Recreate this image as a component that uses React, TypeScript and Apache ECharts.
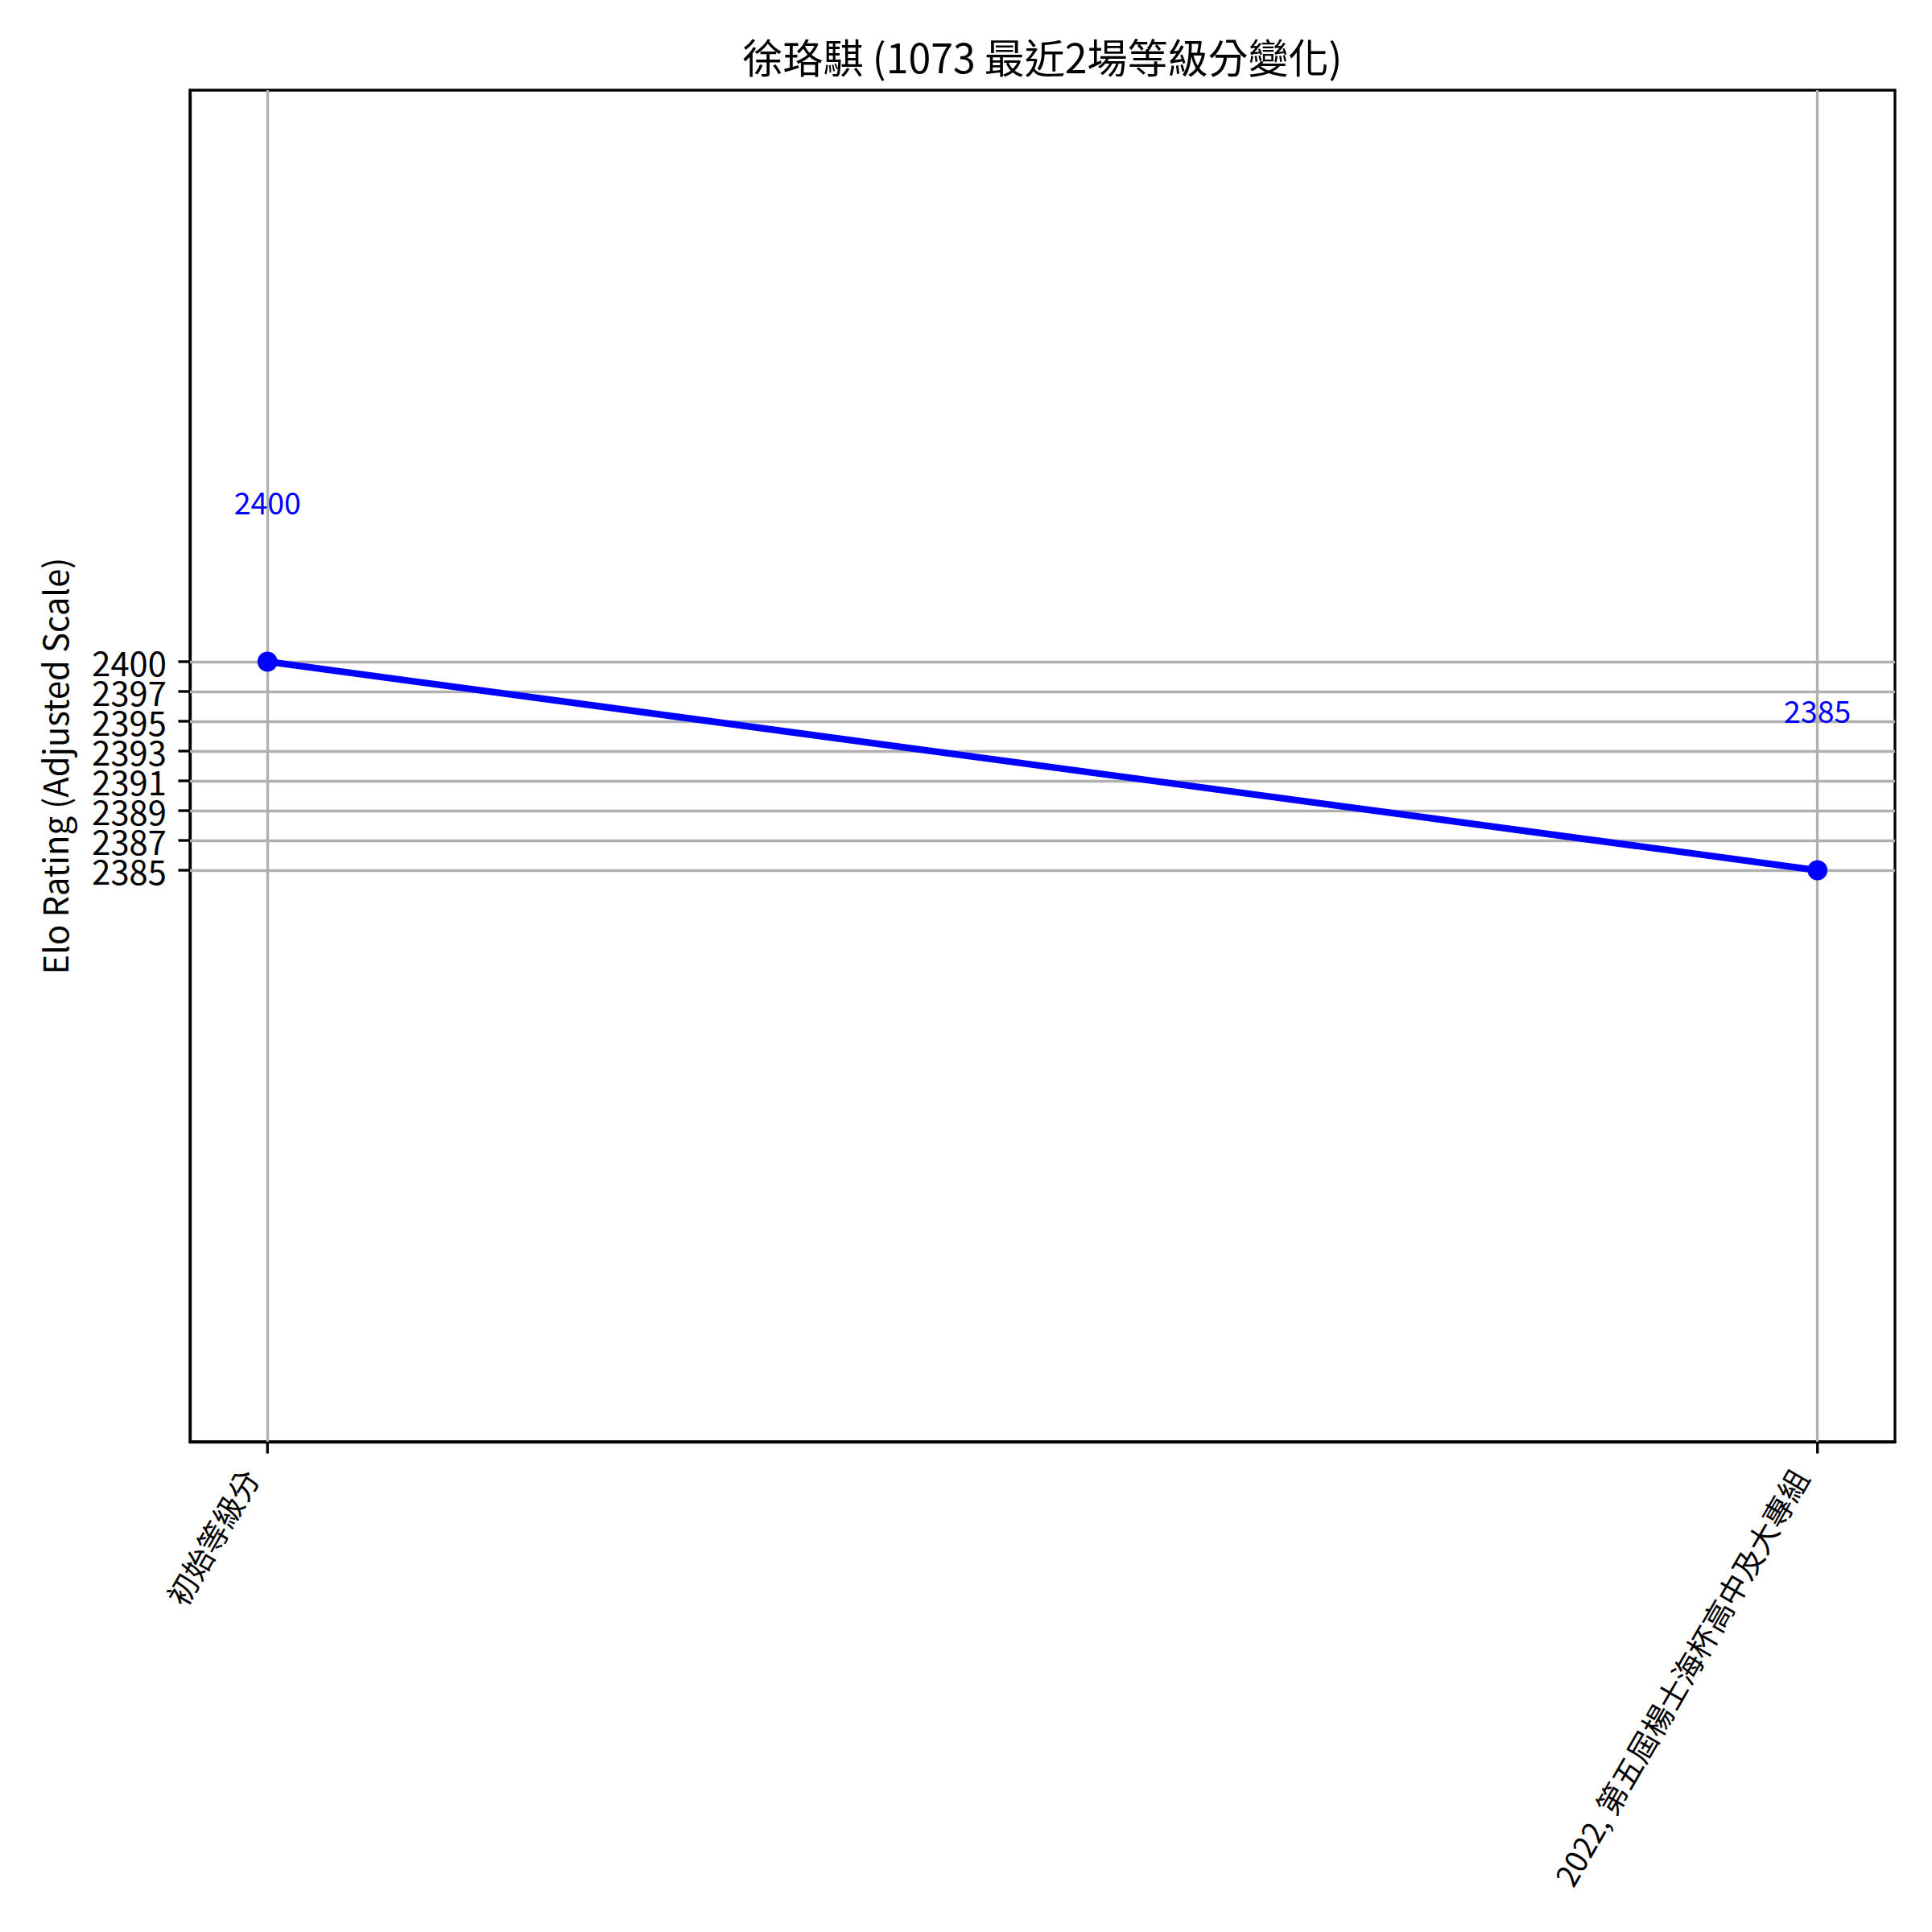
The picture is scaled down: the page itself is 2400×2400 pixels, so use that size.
import React, { useEffect, useRef } from "react";
import * as echarts from "echarts";

const categories = ["初始等級分", "2022, 第五屆楊士海杯高中及大專組"];
const ratings = [2400, 2385];
const yTickValues = [2385, 2387.142857, 2389.285714, 2391.428571, 2393.571429, 2395.714286, 2397.857143, 2400];
const yTickLabels = ["2385", "2387", "2389", "2391", "2393", "2395", "2397", "2400"];
const titleText = "徐珞騏 (1073 最近2場等級分變化)";
const yAxisName = "Elo Rating (Adjusted Scale)";

const X_MIN = -0.05;
const X_MAX = 1.05;
const Y_MIN = 2343.9;
const Y_MAX = 2441.1;

const FONT = "'Noto Sans CJK TC', 'Noto Sans CJK SC', 'Noto Sans', sans-serif";

export default function App() {
  const ref = useRef<HTMLDivElement>(null);
  useEffect(() => {
    if (!ref.current) return;
    const chart = echarts.init(ref.current, null, { renderer: "svg" });
    const xIdx = categories.map((_, i) => i);
    const gridColor = "#b0b0b0";
    const TICK = 14.6;
    const PAD = 14.6;
    const option: any = {
      animation: false,
      backgroundColor: "#ffffff",
      textStyle: { fontFamily: FONT },
      graphic: [
        {
          type: "text",
          x: 1295,
          y: 69,
          style: {
            text: titleText,
            textAlign: "center",
            textVerticalAlign: "middle",
            fontSize: 50,
            fontFamily: FONT,
            fill: "#000",
          },
        },
      ],
      grid: {
        left: 236,
        top: 112,
        width: 2118,
        height: 1679,
        show: true,
        borderColor: "#000",
        borderWidth: 3.3,
        backgroundColor: "transparent",
        containLabel: false,
      },
      xAxis: {
        type: "value",
        min: X_MIN,
        max: X_MAX,
        splitLine: { show: false },
        axisLine: { show: true, onZero: false, lineStyle: { color: "#000", width: 3.3 } },
        axisTick: { show: false },
        axisLabel: {
          show: true,
          customValues: xIdx,
          showMinLabel: true,
          showMaxLabel: true,
          hideOverlap: false,
          rotate: 60,
          fontSize: 37.5,
          fontFamily: FONT,
          color: "#000",
          margin: 36,
          verticalAlign: "bottom",
          padding: [0, 12, 0, 0],
          formatter: (v: number) => categories[Math.round(v)] ?? "",
        },
      },
      yAxis: {
        type: "value",
        min: Y_MIN,
        max: Y_MAX,
        name: yAxisName,
        nameLocation: "middle",
        nameGap: 148,
        nameTextStyle: { fontSize: 41.7, fontFamily: FONT, color: "#000" },
        splitLine: { show: false },
        axisLine: { show: true, onZero: false, lineStyle: { color: "#000", width: 3.3 } },
        axisTick: { show: false },
        axisLabel: { show: false },
      },
      series: [
        {
          type: "line",
          z: 1,
          data: [],
          silent: true,
          markLine: {
            silent: true,
            symbol: ["none", "none"],
            label: { show: false },
            lineStyle: { color: gridColor, width: 3.3, type: "solid" },
            emphasis: { disabled: true },
            data: [
              ...yTickValues.map((v) => ({ yAxis: v })),
              ...xIdx.map((v) => ({ xAxis: v })),
            ],
          },
        },
        {
          type: "custom",
          z: 6,
          silent: true,
          clip: false,
          data: yTickValues.map((v) => [X_MIN, v]),
          renderItem: (params: any, api: any) => {
            const p = api.coord([api.value(0), api.value(1)]);
            return {
              type: "group",
              children: [
                {
                  type: "line",
                  shape: { x1: p[0] - TICK, y1: p[1], x2: p[0], y2: p[1] },
                  style: { stroke: "#000", lineWidth: 3.3 },
                },
                {
                  type: "text",
                  x: p[0] - TICK - PAD,
                  y: p[1],
                  style: {
                    text: yTickLabels[params.dataIndex],
                    textAlign: "right",
                    textVerticalAlign: "middle",
                    fontSize: 41.7,
                    fontFamily: FONT,
                    fill: "#000",
                  },
                },
              ],
            };
          },
        },
        {
          type: "custom",
          z: 6,
          silent: true,
          clip: false,
          data: xIdx.map((v) => [v, Y_MIN]),
          renderItem: (params: any, api: any) => {
            const p = api.coord([api.value(0), api.value(1)]);
            return {
              type: "line",
              shape: { x1: p[0], y1: p[1], x2: p[0], y2: p[1] + TICK },
              style: { stroke: "#000", lineWidth: 3.3 },
            };
          },
        },
        {
          type: "line",
          z: 5,
          data: ratings.map((r, i) => [i, r]),
          color: "#0000ff",
          lineStyle: { color: "#0000ff", width: 8.3 },
          itemStyle: { color: "#0000ff" },
          symbol: "circle",
          symbolSize: 25,
          label: {
            show: true,
            position: "top",
            distance: 168,
            fontSize: 37.5,
            fontFamily: FONT,
            color: "#0000ff",
            formatter: (p: any) => String(p.value[1]),
          },
        },
      ],
    };
    chart.setOption(option);
    return () => chart.dispose();
  }, []);
  return (
    <div
      ref={ref}
      style={{ position: "absolute", left: 0, top: 0, width: 2400, height: 2400 }}
    />
  );
}
